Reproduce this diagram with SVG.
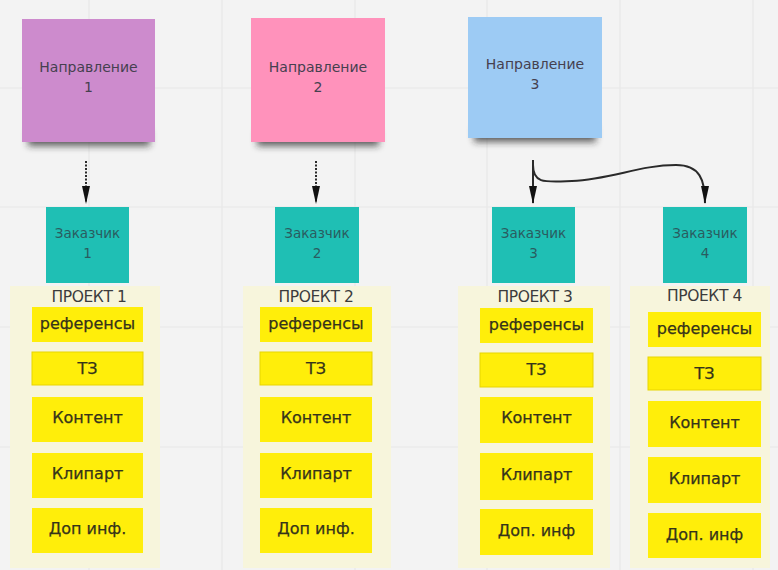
<svg xmlns="http://www.w3.org/2000/svg" width="778" height="570" viewBox="0 0 778 570">
<style>
.grid{stroke:#e8e8e8;stroke-width:1.2;fill:none}
.panel{fill:#f7f5dc}
.item{fill:#ffee0a}
.tz{fill:#ffee0a;stroke:#e8d500;stroke-width:1}
.itxt{font-family:"DejaVu Sans",sans-serif;font-size:16px;fill:#35331a;text-anchor:middle;stroke:#35331a;stroke-width:0.25}
.ptxt{font-family:"DejaVu Sans",sans-serif;font-size:15.5px;fill:#3c3c3c;text-anchor:middle;letter-spacing:-0.4px}
.stxt{font-family:"DejaVu Sans",sans-serif;font-size:14px;fill:#45404f;text-anchor:middle}
.ctxt{font-family:"DejaVu Sans",sans-serif;font-size:13.5px;fill:#2a5c60;text-anchor:middle}
.cust{fill:#1fbfb4}
.conn{stroke:#2a2a2a;stroke-width:2;fill:none}
.dot{stroke-dasharray:2 1.5}
</style>
<defs>
<marker id="ah" viewBox="0 0 18 10" refX="17" refY="5" markerWidth="18" markerHeight="10" markerUnits="userSpaceOnUse" orient="auto">
<path d="M0,1 L18,5 L0,9 z" fill="#111"/>
</marker>
<filter id="sh" x="-20%" y="-50%" width="140%" height="200%">
<feGaussianBlur stdDeviation="3.5"/>
</filter>
</defs>
<rect x="0" y="0" width="778" height="570" fill="#f3f3f3"/>
<g id="grid">
<path class="grid" d="M89,0V570M222,0V570M355,0V570M487,0V570M620,0V570M753,0V570M0,88H778M0,207H778M0,327H778M0,447H778"/>
</g>
<g id="panels">
<rect class="panel" x="10" y="286" width="150" height="282"/>
<rect class="panel" x="243" y="286" width="148" height="282"/>
<rect class="panel" x="458" y="286" width="152" height="282"/>
<rect class="panel" x="630" y="286" width="140" height="282"/>
</g>
<g id="dir1">
<rect x="28" y="130" width="122" height="16" fill="#222" opacity="0.7" filter="url(#sh)"/>
<rect x="22" y="19" width="133" height="123" fill="#cd8bcd"/>
<text class="stxt" x="88.5" y="72">Направление</text>
<text class="stxt" x="88.5" y="92">1</text>
</g>
<g id="dir2">
<rect x="257" y="130" width="122" height="16" fill="#222" opacity="0.7" filter="url(#sh)"/>
<rect x="251" y="18" width="134" height="124" fill="#ff92bb"/>
<text class="stxt" x="318" y="72">Направление</text>
<text class="stxt" x="318" y="92">2</text>
</g>
<g id="dir3">
<rect x="474" y="126" width="122" height="16" fill="#222" opacity="0.7" filter="url(#sh)"/>
<rect x="468" y="17" width="134" height="121" fill="#9dcbf4"/>
<text class="stxt" x="535" y="69">Направление</text>
<text class="stxt" x="535" y="89">3</text>
</g>
<g id="connectors">
<path class="conn dot" d="M86,161 V203" marker-end="url(#ah)"/>
<path class="conn dot" d="M316,161 V203" marker-end="url(#ah)"/>
<path class="conn" d="M533,160 V203" marker-end="url(#ah)"/>
<path class="conn" d="M533,165 C533,184 545,182 572,181 C612,179 640,165 676,165 C700,165 705,180 705,203" marker-end="url(#ah)"/>
</g>
<g id="cust1">
<rect class="cust" x="46" y="207" width="83" height="76"/>
<text class="ctxt" x="87.5" y="238">Заказчик</text>
<text class="ctxt" x="87.5" y="258">1</text>
</g>
<g id="cust2">
<rect class="cust" x="275" y="207" width="84" height="76"/>
<text class="ctxt" x="317" y="238">Заказчик</text>
<text class="ctxt" x="317" y="258">2</text>
</g>
<g id="cust3">
<rect class="cust" x="492" y="207" width="83" height="76"/>
<text class="ctxt" x="533.5" y="238">Заказчик</text>
<text class="ctxt" x="533.5" y="258">3</text>
</g>
<g id="cust4">
<rect class="cust" x="663" y="207" width="84" height="76"/>
<text class="ctxt" x="705" y="238">Заказчик</text>
<text class="ctxt" x="705" y="258">4</text>
</g>
<g id="proj1">
<text class="ptxt" x="89" y="302">ПРОЕКТ 1</text>
<rect class="item" x="32" y="307" width="111" height="35"/>
<text class="itxt" x="87.5" y="329">референсы</text>
<rect class="tz" x="32" y="352" width="111" height="33"/>
<text class="itxt" x="87.5" y="374">ТЗ</text>
<rect class="item" x="32" y="397" width="111" height="45"/>
<text class="itxt" x="87.5" y="423">Контент</text>
<rect class="item" x="32" y="453" width="111" height="45"/>
<text class="itxt" x="87.5" y="479">Клипарт</text>
<rect class="item" x="32" y="508" width="111" height="45"/>
<text class="itxt" x="87.5" y="534">Доп инф.</text>
</g>
<g id="proj2">
<text class="ptxt" x="316" y="302">ПРОЕКТ 2</text>
<rect class="item" x="260" y="307" width="112" height="35"/>
<text class="itxt" x="316" y="329">референсы</text>
<rect class="tz" x="260" y="352" width="112" height="33"/>
<text class="itxt" x="316" y="374">ТЗ</text>
<rect class="item" x="260" y="397" width="112" height="45"/>
<text class="itxt" x="316" y="423">Контент</text>
<rect class="item" x="260" y="453" width="112" height="45"/>
<text class="itxt" x="316" y="479">Клипарт</text>
<rect class="item" x="260" y="508" width="112" height="45"/>
<text class="itxt" x="316" y="534">Доп инф.</text>
</g>
<g id="proj3">
<text class="ptxt" x="535" y="302">ПРОЕКТ 3</text>
<rect class="item" x="480" y="308" width="113" height="35"/>
<text class="itxt" x="536.5" y="330">референсы</text>
<rect class="tz" x="480" y="353" width="113" height="34"/>
<text class="itxt" x="536.5" y="375">ТЗ</text>
<rect class="item" x="480" y="397" width="113" height="46"/>
<text class="itxt" x="536.5" y="423">Контент</text>
<rect class="item" x="480" y="453" width="113" height="47"/>
<text class="itxt" x="536.5" y="480">Клипарт</text>
<rect class="item" x="480" y="509" width="113" height="46"/>
<text class="itxt" x="536.5" y="536">Доп. инф</text>
</g>
<g id="proj4">
<text class="ptxt" x="704.5" y="301">ПРОЕКТ 4</text>
<rect class="item" x="648" y="312" width="113" height="35"/>
<text class="itxt" x="704.5" y="334">референсы</text>
<rect class="tz" x="648" y="357" width="113" height="33"/>
<text class="itxt" x="704.5" y="379">ТЗ</text>
<rect class="item" x="648" y="401" width="113" height="46"/>
<text class="itxt" x="704.5" y="428">Контент</text>
<rect class="item" x="648" y="457" width="113" height="46"/>
<text class="itxt" x="704.5" y="484">Клипарт</text>
<rect class="item" x="648" y="513" width="113" height="45"/>
<text class="itxt" x="704.5" y="540">Доп. инф</text>
</g>
</svg>
